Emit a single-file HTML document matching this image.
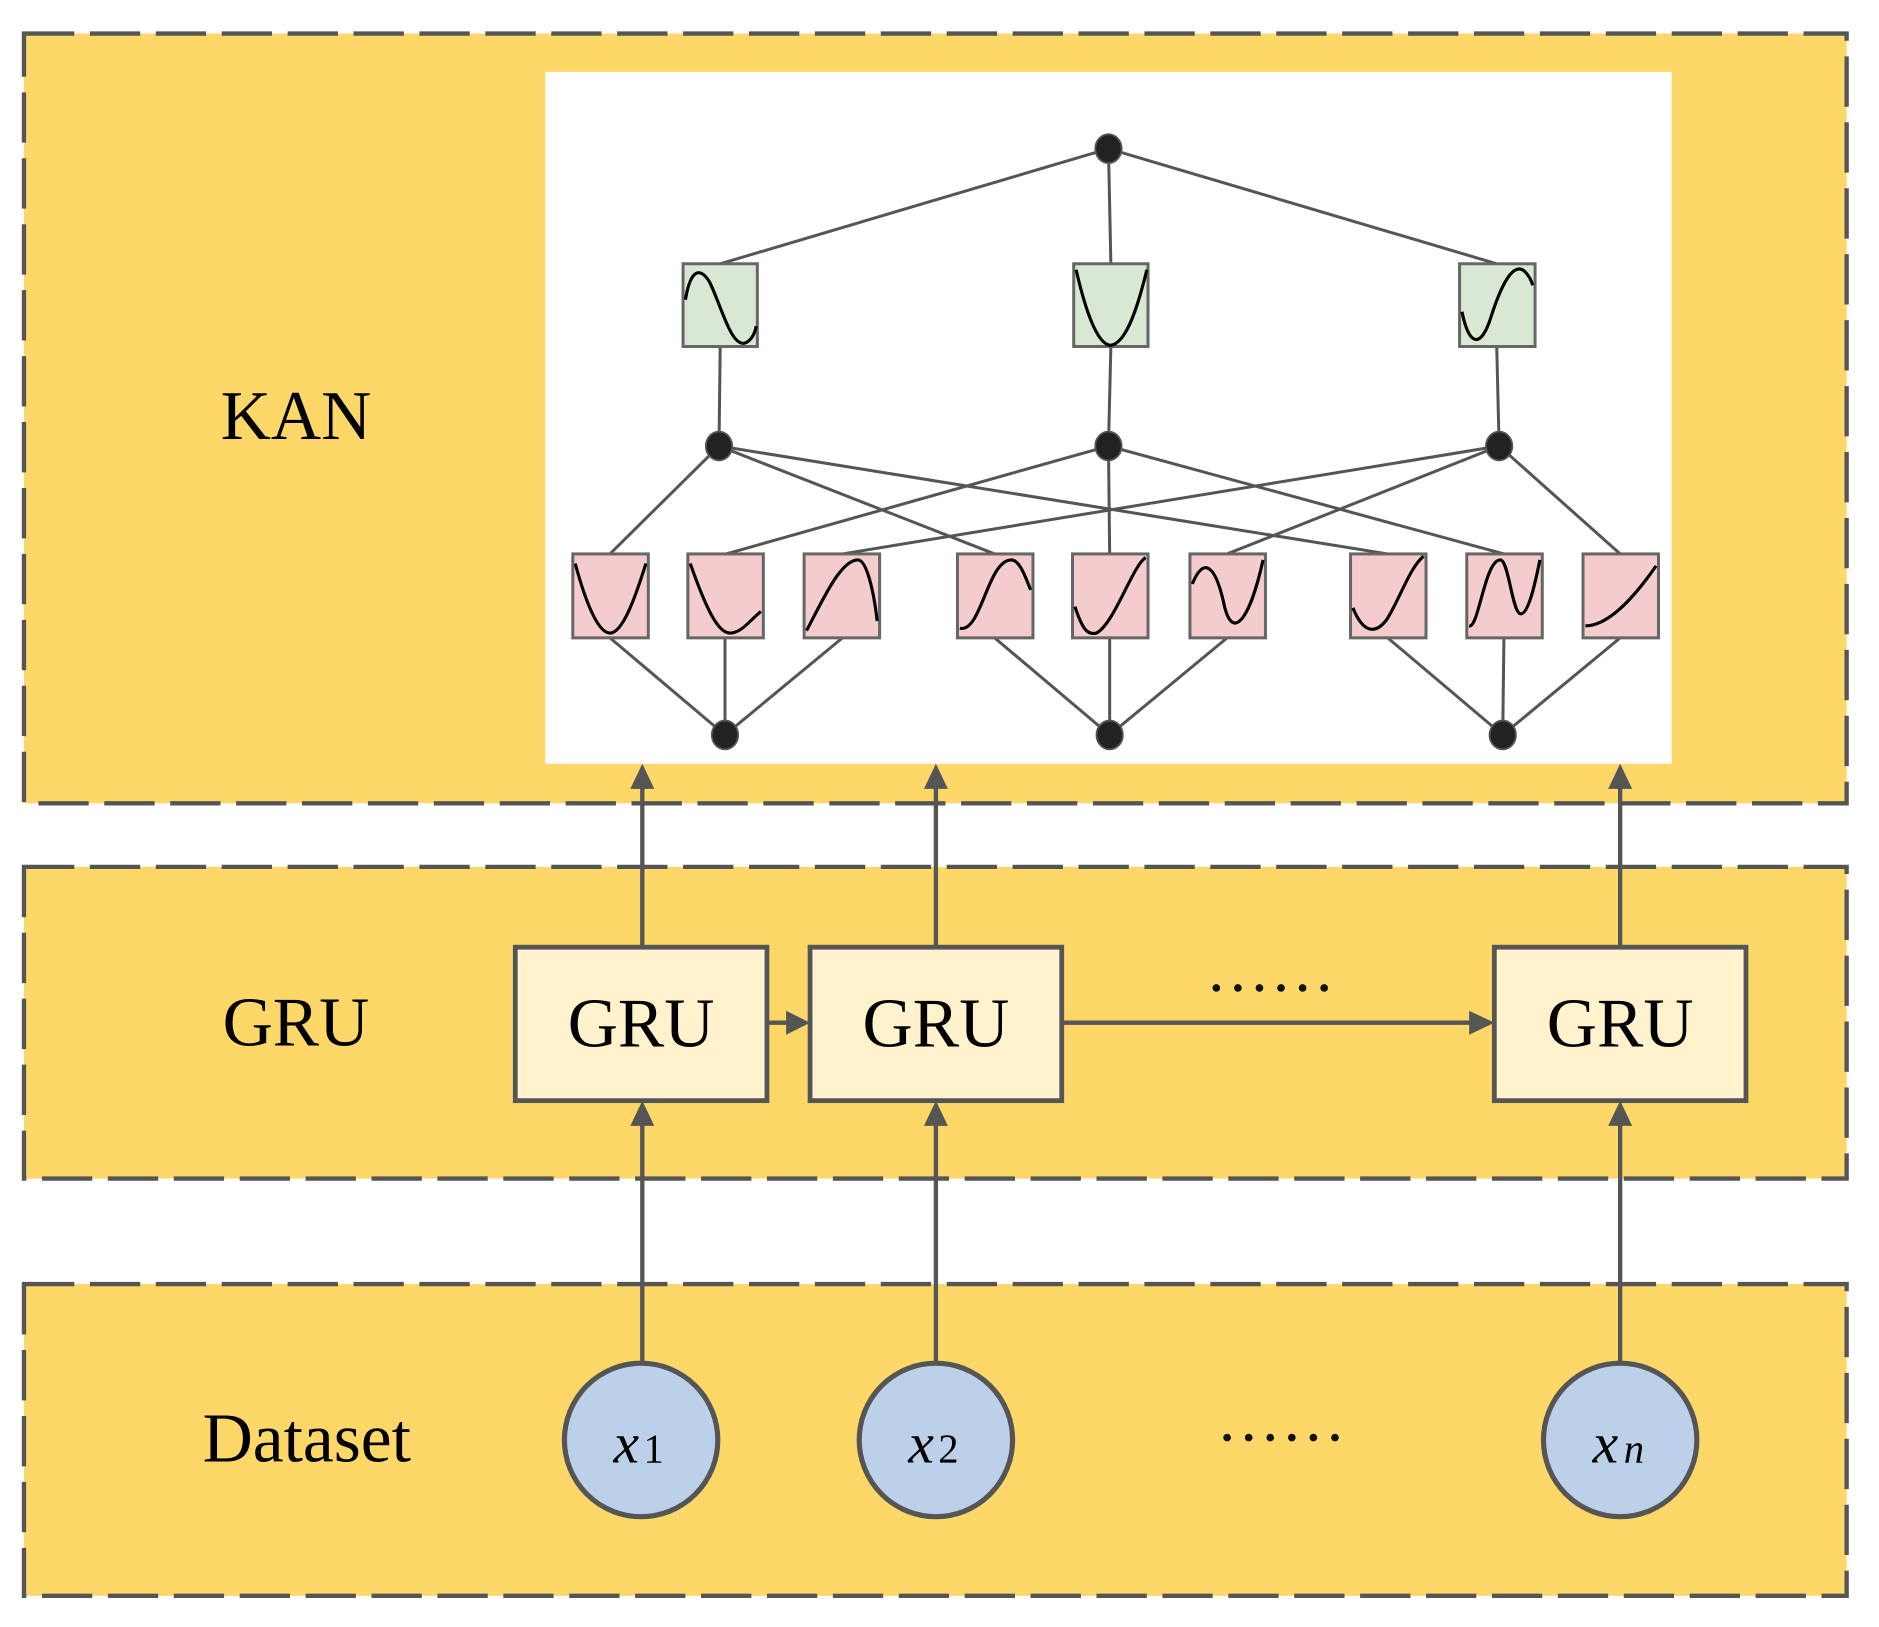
<!DOCTYPE html>
<html><head><meta charset="utf-8"><style>html,body{margin:0;padding:0;background:#fff}svg{display:block}</style></head>
<body>
<svg width="1879" height="1627" viewBox="0 0 1568 1357" preserveAspectRatio="none" xmlns="http://www.w3.org/2000/svg">
<g fill="#fdd868" stroke="#555" stroke-width="3.6" stroke-dasharray="42,13">
<rect x="20" y="28" width="1521" height="642"/>
<rect x="20" y="723" width="1521" height="260"/>
<rect x="20" y="1071" width="1521" height="260"/>
</g>
<rect x="455" y="60" width="940" height="577" fill="#fff"/>
<g font-family="Liberation Serif, serif" font-size="58" fill="#000" text-anchor="middle">
<text x="247" y="366">KAN</text>
<text x="247" y="872">GRU</text>
<text x="256" y="1219">Dataset</text>
</g>
<g stroke="#555" stroke-width="2.5" fill="none">
<line x1="925" y1="124" x2="601" y2="220"/><line x1="925" y1="124" x2="927" y2="220"/><line x1="925" y1="124" x2="1249" y2="220"/>
<line x1="601" y1="289" x2="600" y2="372"/><line x1="927" y1="289" x2="925" y2="372"/><line x1="1249" y1="289" x2="1251" y2="372"/>
<line x1="600" y1="372" x2="509" y2="462"/><line x1="600" y1="372" x2="830" y2="462"/><line x1="600" y1="372" x2="1158" y2="462"/>
<line x1="925" y1="372" x2="606" y2="462"/><line x1="925" y1="372" x2="926" y2="462"/><line x1="925" y1="372" x2="1255" y2="462"/>
<line x1="1251" y1="372" x2="703" y2="462"/><line x1="1251" y1="372" x2="1024" y2="462"/><line x1="1251" y1="372" x2="1352" y2="462"/>
<line x1="509" y1="532" x2="605" y2="613"/><line x1="605" y1="532" x2="605" y2="613"/><line x1="703" y1="532" x2="605" y2="613"/>
<line x1="830" y1="532" x2="926" y2="613"/><line x1="926" y1="532" x2="926" y2="613"/><line x1="1024" y1="532" x2="926" y2="613"/>
<line x1="1158" y1="532" x2="1254" y2="613"/><line x1="1255" y1="532" x2="1254" y2="613"/><line x1="1352" y1="532" x2="1254" y2="613"/>
</g>
<g fill="#222" stroke="#555" stroke-width="1.5">
<ellipse cx="925" cy="124" rx="11" ry="12"/>
<ellipse cx="600" cy="372" rx="11" ry="12"/><ellipse cx="925" cy="372" rx="11" ry="12"/><ellipse cx="1251" cy="372" rx="11" ry="12"/>
<ellipse cx="605" cy="613" rx="11" ry="12"/><ellipse cx="926" cy="613" rx="11" ry="12"/><ellipse cx="1254" cy="613" rx="11" ry="12"/>
</g>
<g stroke="#666" stroke-width="2.5" fill="#d9e8d3">
<rect x="570" y="220" width="62" height="69"/><rect x="896" y="220" width="62" height="69"/><rect x="1218" y="220" width="63" height="69"/>
</g>
<g stroke="#000" stroke-width="2.6" fill="none">
<path transform="translate(570,220)" d="M2,30 C6,5 14,2 22,15 C32,35 40,70 52,66 C57,64 60,58 61,52"/>
<path transform="translate(896,220)" d="M2,5 C10,40 20,68 31,68 C45,66 55,30 61,5"/>
<path transform="translate(1218,220)" d="M2,40 C8,70 18,70 26,45 C34,20 44,-2 54,6 C58,10 60,14 61,18"/>
</g>
<g stroke="#666" stroke-width="2.5" fill="#f4cccd">
<rect x="478" y="462" width="63" height="70"/><rect x="574" y="462" width="63" height="70"/><rect x="671" y="462" width="63" height="70"/>
<rect x="799" y="462" width="63" height="70"/><rect x="895" y="462" width="63" height="70"/><rect x="993" y="462" width="63" height="70"/>
<rect x="1127" y="462" width="63" height="70"/><rect x="1224" y="462" width="63" height="70"/><rect x="1321" y="462" width="63" height="70"/>
</g>
<g stroke="#000" stroke-width="2.6" fill="none">
<path transform="translate(478,462)" d="M2,8 C12,45 22,66 31,66 C41,66 51,40 61,8"/>
<path transform="translate(574,462)" d="M2,8 C15,45 25,66 35,66 C45,66 52,55 61,48"/>
<path transform="translate(671,462)" d="M2,64 C15,40 30,5 45,5 C52,5 58,30 61,56"/>
<path transform="translate(799,462)" d="M2,62 C20,66 25,5 45,5 C52,5 57,20 61,30"/>
<path transform="translate(895,462)" d="M2,44 C8,62 12,68 20,66 C35,58 50,10 61,3"/>
<path transform="translate(993,462)" d="M2,25 C10,5 20,5 28,40 C35,75 50,55 61,5"/>
<path transform="translate(1127,462)" d="M2,45 C10,65 20,68 30,55 C40,40 50,10 61,2"/>
<path transform="translate(1224,462)" d="M2,60 C10,62 15,5 28,5 C35,5 38,50 45,50 C52,50 58,20 61,5"/>
<path transform="translate(1321,462)" d="M2,60 C20,60 40,40 61,10"/>
</g>
<g stroke="#555" stroke-width="3.6" fill="none">
<line x1="536" y1="790" x2="536" y2="655"/><line x1="781" y1="790" x2="781" y2="655"/><line x1="1352" y1="790" x2="1352" y2="655"/>
<line x1="536" y1="1137" x2="536" y2="935"/><line x1="781" y1="1137" x2="781" y2="935"/><line x1="1352" y1="1137" x2="1352" y2="935"/>
<line x1="640" y1="853" x2="660" y2="853"/><line x1="886" y1="853" x2="1230" y2="853"/>
</g>
<g fill="#555">
<path d="M536,637 L546,658 L526,658 z"/><path d="M781,637 L791,658 L771,658 z"/><path d="M1352,637 L1362,658 L1342,658 z"/>
<path d="M536,918 L546,939 L526,939 z"/><path d="M781,918 L791,939 L771,939 z"/><path d="M1352,918 L1362,939 L1342,939 z"/>
<path d="M676,853 L656,843 L656,863 z"/><path d="M1247,853 L1226,843 L1226,863 z"/>
</g>
<g fill="#fff2cc" stroke="#555" stroke-width="4">
<rect x="430" y="790" width="210" height="128"/><rect x="676" y="790" width="210" height="128"/><rect x="1247" y="790" width="210" height="128"/>
</g>
<g font-family="Liberation Serif, serif" font-size="58" text-anchor="middle" fill="#000">
<text x="535" y="873">GRU</text><text x="781" y="873">GRU</text><text x="1352" y="873">GRU</text>
</g>
<g fill="#bdd0e9" stroke="#555" stroke-width="4.3">
<circle cx="535" cy="1201" r="64"/><circle cx="781" cy="1201" r="64"/><circle cx="1352" cy="1201" r="64"/>
</g>
<g font-family="Liberation Serif, serif" fill="#000">
<text x="512" y="1220" font-size="48" font-style="italic">x</text><text x="537" y="1220" font-size="34">1</text>
<text x="758" y="1220" font-size="48" font-style="italic">x</text><text x="783" y="1220" font-size="34">2</text>
<text x="1329" y="1220" font-size="48" font-style="italic">x</text><text x="1355" y="1220" font-size="34" font-style="italic">n</text>
</g>
<g fill="#111">
<circle cx="1015" cy="824" r="3.2"/><circle cx="1033" cy="824" r="3.2"/><circle cx="1051" cy="824" r="3.2"/><circle cx="1069" cy="824" r="3.2"/><circle cx="1087" cy="824" r="3.2"/><circle cx="1105" cy="824" r="3.2"/>
<circle cx="1024" cy="1199" r="3.2"/><circle cx="1042" cy="1199" r="3.2"/><circle cx="1060" cy="1199" r="3.2"/><circle cx="1078" cy="1199" r="3.2"/><circle cx="1096" cy="1199" r="3.2"/><circle cx="1114" cy="1199" r="3.2"/>
</g>
</svg>
</body></html>
